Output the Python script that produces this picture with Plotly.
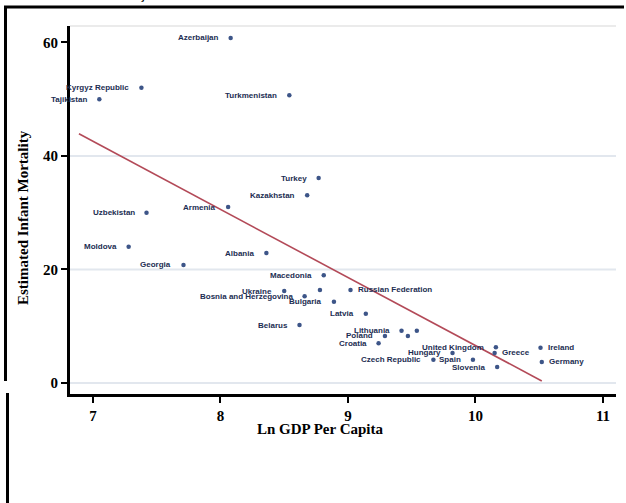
import plotly.graph_objects as go

# ---- data ----
countries = ["Azerbaijan", "Kyrgyz Republic", "Tajikistan", "Turkmenistan", "Turkey",
             "Kazakhstan", "Armenia", "Uzbekistan", "Moldova", "Albania", "Georgia",
             "Macedonia", "Ukraine", "", "Russian Federation", "Bosnia and Herzegovina",
             "Bulgaria", "Latvia", "Belarus", "Lithuania", "Poland", "Croatia", "", "",
             "Hungary", "Czech Republic", "Spain", "United Kingdom", "Slovenia", "Greece",
             "Ireland", "Germany"]
ln_gdp = [8.08, 7.38, 7.05, 8.54, 8.77,
          8.68, 8.06, 7.42, 7.28, 8.36, 7.71,
          8.81, 8.50, 8.78, 9.02, 8.66,
          8.89, 9.14, 8.62, 9.42, 9.29, 9.24, 9.47, 9.54,
          9.82, 9.67, 9.98, 10.16, 10.17, 10.15,
          10.51, 10.52]
infant_mort = [60.8, 52.0, 50.0, 50.7, 36.1,
               33.1, 31.0, 30.0, 24.0, 22.9, 20.8,
               19.0, 16.2, 16.4, 16.4, 15.3,
               14.3, 12.2, 10.2, 9.2, 8.3, 7.0, 8.3, 9.2,
               5.3, 4.1, 4.1, 6.3, 2.8, 5.3,
               6.2, 3.7]
label_side = ["L", "L", "L", "L", "L",
              "L", "L", "L", "L", "L", "L",
              "L", "L", "L", "R", "L",
              "L", "L", "L", "L", "L", "L", "L", "L",
              "L", "L", "L", "L", "L", "R",
              "R", "R"]

fit_x = [6.89, 10.52]
fit_y = [43.9, 0.35]

y_ticks = [0, 20, 40, 60]
x_ticks = [7, 8, 9, 10, 11]
x_tick_labels = ["7", "8", "9", "10", "11"]

x_title = "Ln GDP Per Capita"
y_title = "Estimated Infant Mortality"
caption = "Ilustração 1"

# ---- geometry helpers (pixel -> paper) ----
W, H = 626, 503
L, R, T, B = 70, 10, 26, 109
PW, PH = W - L - R, H - T - B


def px_x(px):
    return (px - L) / PW


def px_y(py):
    return (H - B - py) / PH


navy = "#1c2d52"
marker_col = "#3d5588"

fig = go.Figure()

fig.add_trace(go.Scatter(
    x=fit_x, y=fit_y, mode="lines",
    line=dict(color="#b34a58", width=1.6),
    hoverinfo="skip", showlegend=False, cliponaxis=False))

fig.add_trace(go.Scatter(
    x=ln_gdp, y=infant_mort, mode="markers",
    marker=dict(symbol="circle", size=4.5, color=marker_col),
    showlegend=False, cliponaxis=False))

annotations = []
for name, xv, yv, side in zip(countries, ln_gdp, infant_mort, label_side):
    if not name:
        continue
    annotations.append(dict(
        x=xv, y=yv, xref="x", yref="y", text=name, showarrow=False,
        xanchor="right" if side == "L" else "left", yanchor="middle",
        xshift=-10 if side == "L" else 5,
        font=dict(family="Liberation Sans", size=8, color=navy, weight="bold")))

title_font = dict(family="Liberation Serif", size=15, color="black", weight="bold")

# axis titles
annotations.append(dict(
    x=px_x(320), y=px_y(429), xref="paper", yref="paper", text=x_title,
    showarrow=False, xanchor="center", yanchor="middle", font=title_font))
annotations.append(dict(
    x=px_x(23), y=px_y(218), xref="paper", yref="paper", text=y_title,
    showarrow=False, xanchor="center", yanchor="middle", textangle=-90, font=title_font))

# cropped caption fragment at the very top of the picture
annotations.append(dict(
    x=px_x(100), y=px_y(4), xref="paper", yref="paper", text=caption,
    showarrow=False, xanchor="left", yanchor="bottom",
    font=dict(family="Liberation Serif", size=13, color="black", weight="bold")))

shapes = []
# grid lines
for yv in y_ticks[:-1]:
    shapes.append(dict(type="line", xref="paper", yref="y", x0=0, x1=1, y0=yv, y1=yv,
                       line=dict(color="#e2e7ee", width=2), layer="below"))
shapes.append(dict(type="line", xref="paper", yref="paper", x0=0, x1=1, y0=1, y1=1,
                   line=dict(color="#ebebeb", width=2), layer="below"))
# outer frame lines
shapes.append(dict(type="line", xref="paper", yref="paper", x0=px_x(4), x1=px_x(624),
                   y0=px_y(7), y1=px_y(7), line=dict(color="black", width=3)))
shapes.append(dict(type="line", xref="paper", yref="paper", x0=px_x(5.5), x1=px_x(5.5),
                   y0=px_y(6), y1=px_y(381), line=dict(color="black", width=3)))
shapes.append(dict(type="line", xref="paper", yref="paper", x0=px_x(7.5), x1=px_x(7.5),
                   y0=px_y(393), y1=px_y(506), line=dict(color="black", width=3)))

tick_font = dict(family="Liberation Serif", size=15, color="black", weight="bold")

fig.update_layout(
    width=W, height=H,
    margin=dict(l=L, r=R, t=T, b=B, autoexpand=False),
    paper_bgcolor="white", plot_bgcolor="white",
    annotations=annotations, shapes=shapes,
    xaxis=dict(range=[6.82, 11.102], tickvals=x_ticks, ticktext=x_tick_labels,
               showgrid=False, zeroline=False, showline=True, linecolor="black",
               linewidth=3, ticks="outside", ticklen=6, tickwidth=2, tickcolor="black",
               tickfont=tick_font, automargin=False),
    yaxis=dict(range=[-1.94, 62.9], tickvals=y_ticks,
               showgrid=False, zeroline=False, showline=True, linecolor="black",
               linewidth=3, ticks="outside", ticklen=6, tickwidth=2, tickcolor="black",
               tickfont=tick_font, automargin=False),
)

fig.write_html("out.html",
               config={"displayModeBar": False},
               post_script="document.body.style.margin='0';document.body.style.overflow='hidden';")
